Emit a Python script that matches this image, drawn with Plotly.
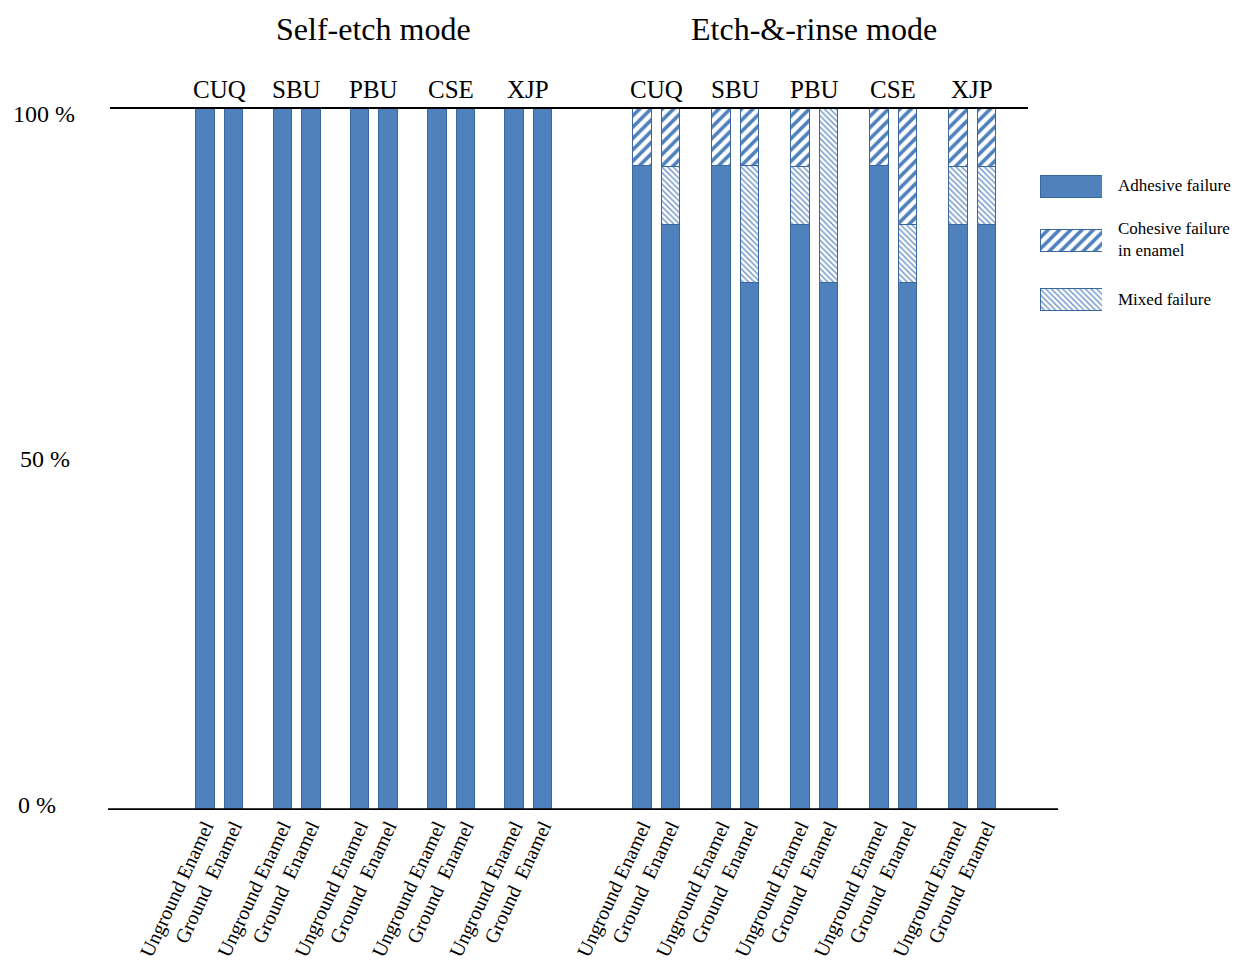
import plotly.graph_objects as go

# ---------------- data ----------------
modes = ["Self-etch mode", "Etch-&-rinse mode"]
groups = ["CUQ", "SBU", "PBU", "CSE", "XJP"]
enamel = ["Unground Enamel", "Ground\u00a0\u00a0Enamel"]

# order: CUQ-U, CUQ-G, SBU-U, SBU-G, PBU-U, PBU-G, CSE-U, CSE-G, XJP-U, XJP-G
adhesive_self = [100, 100, 100, 100, 100, 100, 100, 100, 100, 100]
mixed_self = [0, 0, 0, 0, 0, 0, 0, 0, 0, 0]
cohesive_self = [0, 0, 0, 0, 0, 0, 0, 0, 0, 0]

adhesive_er = [91.7, 83.3, 91.7, 75.0, 83.3, 75.0, 91.7, 75.0, 83.3, 83.3]
mixed_er = [0, 8.3, 0, 16.7, 8.3, 25.0, 0, 8.3, 8.3, 8.3]
cohesive_er = [8.3, 8.3, 8.3, 8.3, 8.3, 0, 8.3, 16.7, 8.3, 8.3]

y_ticks = [0, 50, 100]
y_ticktext = ["0 %", "50 %", "100 %"]

legend_names = ["Adhesive failure", "Cohesive failure<br>in enamel", "Mixed failure"]

# ---------------- layout constants ----------------
W, H = 1240, 965
OFF = 8  # default page body margin
mode_start = [205, 642]
group_step = [77.3, 79.0]
pair_step = 28.5
bar_w = 18.5
ylab_cx = [37, 45, 44]
ylab_shift = [5, 0, -7]

BLUE = "#4F81BD"
EDGE = "#3A679E"
MIXC = "#6A92C8"
FONT = "Liberation Serif"

xs = []
for m in range(2):
    for g in range(len(groups)):
        for s in range(2):
            xs.append(mode_start[m] + g * group_step[m] + s * pair_step)

adhesive = adhesive_self + adhesive_er
mixed = mixed_self + mixed_er
cohesive = cohesive_self + cohesive_er
labels = [enamel[i % 2] for i in range(len(xs))]

coh_pat = dict(shape="/", fgcolor=BLUE, bgcolor="white", size=8, solidity=0.45,
               fillmode="replace", fgopacity=1)
mix_pat = dict(shape="\\", fgcolor=MIXC, bgcolor="white", size=4, solidity=0.35,
               fillmode="replace", fgopacity=1)

fig = go.Figure()
fig.add_trace(go.Bar(x=xs, y=adhesive, width=bar_w, name="Adhesive failure",
                     marker=dict(color=BLUE, line=dict(color=EDGE, width=1)),
                     showlegend=False))
fig.add_trace(go.Bar(x=xs, y=mixed, width=bar_w, name="Mixed failure",
                     marker=dict(color="white", line=dict(color=EDGE, width=1), pattern=mix_pat),
                     showlegend=False))
fig.add_trace(go.Bar(x=xs, y=cohesive, width=bar_w, name="Cohesive failure in enamel",
                     marker=dict(color="white", line=dict(color=EDGE, width=1), pattern=coh_pat),
                     showlegend=False))

# ---------------- legend swatches (own axes) ----------------
legend_rows = [186, 240, 299]
sw_styles = [
    dict(color=BLUE, line=dict(color=EDGE, width=1)),
    dict(color="white", line=dict(color=EDGE, width=1), pattern=coh_pat),
    dict(color="white", line=dict(color=EDGE, width=1), pattern=mix_pat),
]
for r, st in zip(legend_rows, sw_styles):
    fig.add_trace(go.Bar(x=[1], y=[r], orientation="h", width=22, marker=st,
                         xaxis="x2", yaxis="y2", showlegend=False, hoverinfo="skip"))

plot_top, plot_bot = 107, 810


def py(p):
    return (plot_bot - p) / (plot_bot - plot_top)


def px(p):
    return (p - OFF) / W


fig.update_layout(
    width=W, height=H,
    margin=dict(l=0, r=0, t=plot_top - OFF, b=H - plot_bot + OFF),
    paper_bgcolor="white", plot_bgcolor="white",
    barmode="stack",
    xaxis=dict(range=[OFF, W + OFF], domain=[0, 1], showgrid=False, zeroline=False, showline=False,
               tickmode="array", tickvals=xs, ticktext=labels, tickangle=-65,
               ticks="", tickfont=dict(family=FONT, size=20, color="black")),
    yaxis=dict(range=[0, 100], showgrid=False, zeroline=False, showline=False,
               showticklabels=False),
    xaxis2=dict(domain=[px(1040), px(1102)], range=[0, 1], visible=False, anchor="y2"),
    yaxis2=dict(domain=[py(312), py(170)], range=[312, 170], visible=False, anchor="x2"),
    showlegend=False,
)

# axis lines
fig.add_shape(type="line", xref="x", yref="y", x0=110, x1=1028, y0=100, y1=100,
              line=dict(color="black", width=4))
fig.add_shape(type="line", xref="x", yref="y", x0=108, x1=1058, y0=0, y1=0,
              line=dict(color="black", width=3.5))

# y labels
for v, t, cx, sh in zip(y_ticks, y_ticktext, ylab_cx, ylab_shift):
    fig.add_annotation(x=cx, xref="x", y=v, yref="y", text=t, showarrow=False,
                       xanchor="center", yanchor="middle", yshift=sh,
                       font=dict(family=FONT, size=24, color="black"))

# group labels and mode titles
for m in range(2):
    for g, name in enumerate(groups):
        i = (m * len(groups) + g) * 2
        cx = (xs[i] + xs[i + 1]) / 2
        fig.add_annotation(x=cx, xref="x", y=100, yref="y", text=name, showarrow=False,
                           yanchor="bottom", yshift=2,
                           font=dict(family=FONT, size=25, color="black"))
    i0 = m * len(groups) * 2
    i1 = i0 + len(groups) * 2 - 1
    cx = (xs[i0] + xs[i1]) / 2
    fig.add_annotation(x=cx, xref="x", y=py(29), yref="paper", text=modes[m], showarrow=False,
                       yanchor="middle", font=dict(family=FONT, size=32, color="black"))

# legend texts
for r, t in zip(legend_rows, legend_names):
    fig.add_annotation(x=px(1116), xref="paper", y=py(r), yref="paper", text=t, showarrow=False,
                       xanchor="left", yanchor="middle", align="left",
                       font=dict(family=FONT, size=17, color="black"))

fig.write_html("out.html")
